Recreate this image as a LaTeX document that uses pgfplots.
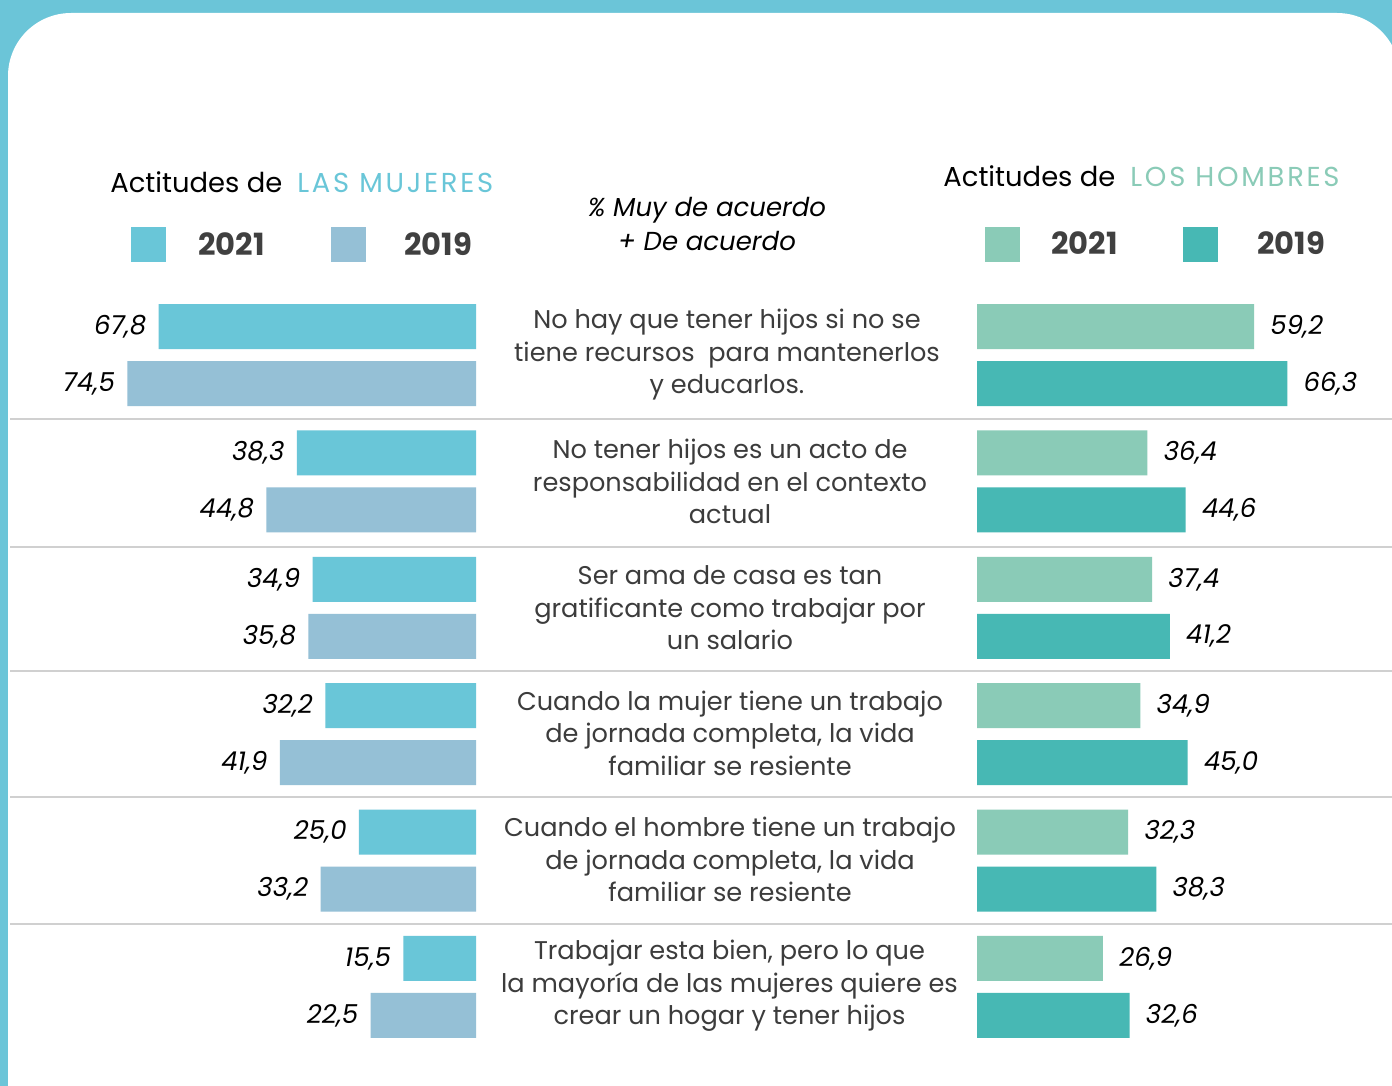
\documentclass[border=0pt]{standalone}
\usepackage{pgfplots}
\usepackage{pgfplotstable}
\pgfplotsset{compat=1.18}
\usepackage{fontspec}
\setmainfont{Poppins}
\definecolor{wA}{HTML}{69C6D8}
\definecolor{wB}{HTML}{95C0D6}
\definecolor{mA}{HTML}{8ACBB7}
\definecolor{mB}{HTML}{47B8B4}
\definecolor{frame}{HTML}{6BC5D8}
\definecolor{txt}{HTML}{3C3C3C}
\definecolor{legtxt}{HTML}{404040}
\definecolor{sep}{HTML}{D0D0D0}

\pgfplotstableread{
r w21 w19 m21 m19
5 67.8 74.5 59.2 66.3
4 38.3 44.8 36.4 44.6
3 34.9 35.8 37.4 41.2
2 32.2 41.9 34.9 45.0
1 25.0 33.2 32.3 38.3
0 15.5 22.5 26.9 32.6
}\data

\pgfplotsset{
  common/.style={
    scale only axis, width=234pt, height=379.2pt,
    xmin=0, xmax=100, ymin=-0.5, ymax=5.5,
    xbar, bar width=22.5pt, hide axis, clip=false,
    point meta=x,
    nodes near coords={\itshape\pgfmathprintnumber[fixed,fixed zerofill,precision=1,use comma,assume math mode=true]{\pgfplotspointmeta}},
  },
}

\begin{document}
\begin{tikzpicture}
\begin{scope}[x=0.5pt,y=-0.5pt]
\path[use as bounding box] (0,0) rectangle (1392,1086);
\fill[frame] (0,0) rectangle (1392,1086);
\begin{scope}
\clip (0,0) rectangle (1392,1086);
\fill[white, rounded corners=31.5pt] (8,1200) -- (8,13) -- (1400,13) -- (1400,1200) -- cycle;
\end{scope}
% separators
\foreach \yy in {419,547,671,797,924} {\draw[sep, line width=1pt] (10,\yy) -- (1392,\yy);}
% headers
\node[anchor=west, inner sep=0pt, font=\fontsize{13.7}{15}\selectfont] at (110,182) {Actitudes de\hspace{0.55em}\textcolor{wA}{\addfontfeatures{LetterSpace=10}LAS MUJERES}};
\node[anchor=west, inner sep=0pt, font=\fontsize{13.7}{15}\selectfont] at (943,176) {Actitudes de\hspace{0.55em}\textcolor{mA}{\addfontfeatures{LetterSpace=10}LOS HOMBRES}};
\node[align=center, inner sep=0pt, font=\fontsize{13}{17}\selectfont\itshape] at (707,224) {\% Muy de acuerdo\\+ De acuerdo};
% legend squares
\fill[wA] (131,227) rectangle (166,262);
\fill[wB] (331,227) rectangle (366,262);
\fill[mA] (985,227) rectangle (1020,262);
\fill[mB] (1183,227) rectangle (1218,262);
\tikzset{leg/.style={anchor=west, inner sep=0pt, text=legtxt, font=\fontsize{15.3}{17}\selectfont\bfseries}}
\node[leg] at (198,244) {2021};
\node[leg] at (404,244) {2019};
\node[leg] at (1051,243) {2021};
\node[leg] at (1257,243) {2019};
% category texts
\tikzset{cat/.style={align=center, inner sep=0pt, text=txt, font=\fontsize{12.8}{16.25}\selectfont}}
\node[cat] at (727,355) {No hay que tener hijos si no se\\tiene recursos\ \ para mantenerlos\\y educarlos.};
\node[cat] at (730,481.4) {No tener hijos es un acto de\\responsabilidad en el contexto\\actual};
\node[cat] at (730,607.8) {Ser ama de casa es tan\\gratificante como trabajar por\\un salario};
\node[cat] at (730,733.2) {Cuando la mujer tiene un trabajo\\de jornada completa, la vida\\familiar se resiente};
\node[cat] at (730,859.6) {Cuando el hombre tiene un trabajo\\de jornada completa, la vida\\familiar se resiente};
\node[cat] at (729.5,986) {Trabajar esta bien, pero lo que\\la mayoría de las mujeres quiere es\\crear un hogar y tener hijos};
\coordinate (LA) at (476,291.8);
\coordinate (RA) at (977,291.8);
\end{scope}

\begin{axis}[common, at={(LA)}, anchor=north east, x dir=reverse,
  every node near coord/.append style={anchor=east, inner sep=0pt, xshift=-6pt, font=\fontsize{13}{15}\selectfont, text=black}]
\addplot[fill=wA, draw=none, bar shift=14.25pt] table[x=w21, y=r] \data;
\addplot[fill=wB, draw=none, bar shift=-14.25pt] table[x=w19, y=r] \data;
\end{axis}

\begin{axis}[common, at={(RA)}, anchor=north west,
  every node near coord/.append style={anchor=west, inner sep=0pt, xshift=8pt, font=\fontsize{13}{15}\selectfont, text=black}]
\addplot[fill=mA, draw=none, bar shift=14.25pt] table[x=m21, y=r] \data;
\addplot[fill=mB, draw=none, bar shift=-14.25pt] table[x=m19, y=r] \data;
\end{axis}
\end{tikzpicture}
\end{document}
